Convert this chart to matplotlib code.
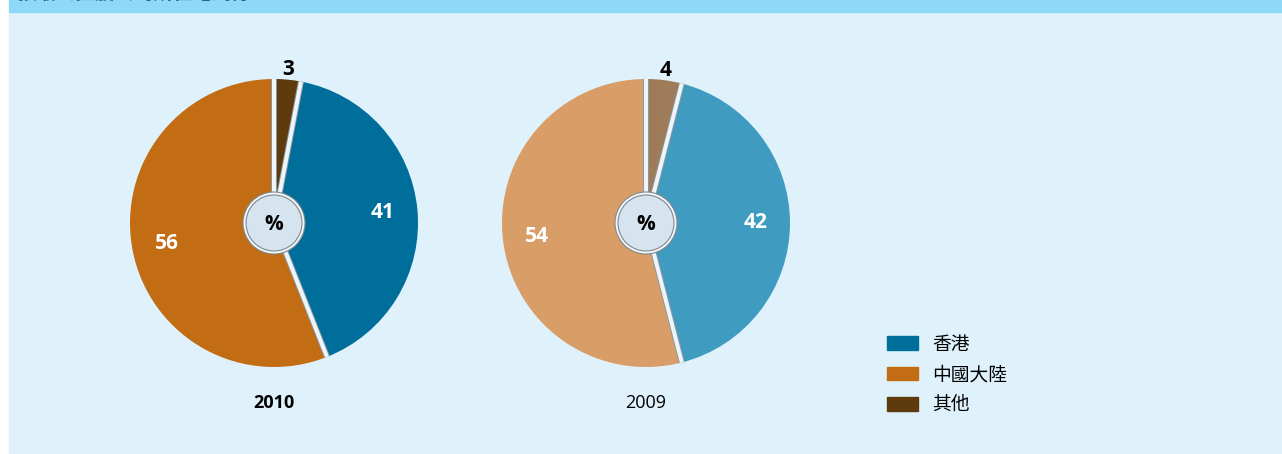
import matplotlib.pyplot as plt
import matplotlib.patches as mpatches
import numpy as np

plt.rcParams['font.family'] = ['Open Sans', 'Noto Sans CJK TC', 'DejaVu Sans']

# data (clockwise from 12 o'clock)
categories = ['其他', '香港', '中國大陸']
values_2010 = [3, 41, 56]
values_2009 = [4, 42, 54]
years = ['2010', '2009']
title = '按最終控股公司所在地劃分'

colors_2010 = ['#5e3b0d', '#006e9b', '#c26c14']
colors_2009 = ['#9e7b59', '#409bc0', '#d99e67']

W, H = 1282, 454
fig = plt.figure(figsize=(W / 100, H / 100), dpi=100)
fig.patch.set_facecolor('white')
ax = fig.add_axes([0, 0, 1, 1])

# background panel and title bar
ax.add_patch(mpatches.Rectangle((9, 0), W - 9, H - 12, color='#dff2fb', zorder=0))
ax.add_patch(mpatches.Rectangle((9, H - 12), W - 9, 12, color='#8ed9f7', zorder=0))
ax.text(18, H + 5, title, fontsize=14, fontweight='bold', color='#17698c',
        va='center', ha='left', zorder=1)

R = 144
pies = [(values_2010, colors_2010, (274, H - 223), 'bold'),
        (values_2009, colors_2009, (646, H - 223), 'normal')]

for (vals, cols, c, yw), yr in zip(pies, years):
    wedges, _ = ax.pie(vals, colors=cols, startangle=90, counterclock=False,
                       radius=R, center=c, wedgeprops=dict(linewidth=0))
    # separators
    cum = np.concatenate([[0], np.cumsum(vals)[:-1]])
    for cv in cum:
        a = np.deg2rad(90 - 360 * cv / sum(vals))
        xs = [c[0], c[0] + R * np.cos(a)]
        ys = [c[1], c[1] + R * np.sin(a)]
        ax.plot(xs, ys, color='#8c969e', lw=4.3, solid_capstyle='butt', zorder=3)
        ax.plot(xs, ys, color='#eef5fa', lw=2.9, solid_capstyle='butt', zorder=4)
    # value labels
    start = 90
    for i, v in enumerate(vals):
        mid = np.deg2rad(start - 360 * v / sum(vals) / 2)
        start -= 360 * v / sum(vals)
        if i == 0:
            r, col = R * 1.07, 'black'
        else:
            r, col = R * 0.76, 'white'
        ax.text(c[0] + r * np.cos(mid), c[1] + r * np.sin(mid), str(v),
                fontsize=15, fontweight='bold', color=col,
                ha='center', va='center', zorder=6)
    # centre disc
    ax.add_patch(mpatches.Circle(c, 31, facecolor='#f4f8fb', edgecolor='#80888f',
                                 lw=0.8, zorder=5))
    ax.add_patch(mpatches.Circle(c, 28, facecolor='#d6e4ef', edgecolor='#80888f',
                                 lw=0.8, zorder=5))
    ax.text(c[0], c[1] - 1, '%', fontsize=15, fontweight='bold', ha='center',
            va='center', zorder=6)
    ax.text(c[0], H - 403, yr, fontsize=13, fontweight=yw, ha='center',
            va='center', zorder=6)

leg_handles = [mpatches.Patch(color=colors_2010[i]) for i in [1, 2, 0]]
leg_labels = [categories[i] for i in [1, 2, 0]]
ax.legend(leg_handles, leg_labels, loc='upper left', frameon=False,
          bbox_to_anchor=(870 / W, 1 - 319 / H), bbox_transform=fig.transFigure,
          fontsize=13.5, handlelength=1.65, handleheight=0.75, labelspacing=0.65,
          handletextpad=0.75)

ax.set_xlim(0, W)
ax.set_ylim(0, H)
ax.set_aspect('equal')
ax.axis('off')

fig.savefig('out.png', dpi=100)
